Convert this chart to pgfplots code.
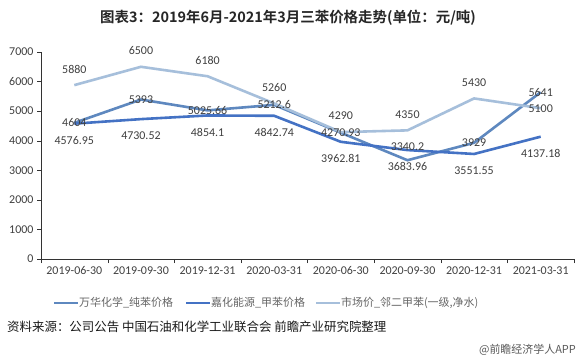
\documentclass[border=0pt]{standalone}
\usepackage{pgfplots}
\pgfplotsset{compat=1.18}
\usepackage{pgfplotstable}
\usepackage{fontspec}
\setmainfont{Carlito}
\newfontfamily\cjk{Noto Sans CJK SC}
\newfontfamily\cjkb{Noto Sans CJK SC Bold}
\definecolor{wanhua}{HTML}{5E88BF}
\definecolor{jiahua}{HTML}{4472C4}
\definecolor{market}{HTML}{A6BFDB}
\definecolor{txt}{HTML}{404040}
\pgfplotstableread{
x y dy
0.5 4604 0
1.5 5393 0
2.5 5025.66 0
3.5 5212.6 0
4.5 4270.93 0
5.5 3340.2 14
6.5 3929 0
7.5 5641 0
}\wanhuatab
\pgfplotstableread{
x y dy
0.5 4576.95 -17
1.5 4730.52 -17
2.5 4854.1 -17
3.5 4842.74 -17
4.5 3962.81 -17
5.5 3683.96 -16
6.5 3551.55 -17
7.5 4137.18 -17
}\jiahuatab
\pgfplotstableread{
x y dy
0.5 5880 16
1.5 6500 16
2.5 6180 16
3.5 5260 16
4.5 4290 16
5.5 4350 16
6.5 5430 16
7.5 5100 0
}\markettab
\begin{document}
\begin{tikzpicture}[x=1bp,y=1bp]
\fill[white] (0,0) rectangle (581,363);
\node[font=\cjkb\fontsize{14.5}{16}\selectfont, text=black!85] at (288,345) {图表3：2019年6月-2021年3月三苯价格走势(单位：元/吨)};
\begin{axis}[
  at={(41bp,104bp)}, anchor=south west,
  scale only axis, width=533bp, height=207bp,
  xmin=0, xmax=8, ymin=0, ymax=7000,
  axis x line*=bottom, axis y line*=left,
  axis line style={black!80, -},
  xtick={0.5,1.5,...,7.5},
  xticklabels={2019-06-30,2019-09-30,2019-12-31,2020-03-31,2020-06-30,2020-09-30,2020-12-31,2021-03-31},
  major x tick style={draw=none},
  minor xtick={0,1,...,8},
  minor x tick style={black!80},
  ytick={0,1000,...,7000},
  tick align=outside,
  major tick length=4bp, minor tick length=4bp,
  ytick style={black!80},
  ticklabel style={font=\fontsize{12}{14}\selectfont, text=txt},
  /pgf/number format/assume math mode=true,
  yticklabel style={/pgf/number format/1000 sep={}},
  scaled y ticks=false,
  clip=false,
  every axis plot/.append style={line width=2.6bp, mark=none},
  nodes near coords style={font=\fontsize{12}{14}\selectfont, text=txt, anchor=center, yshift=\dy bp},
  point meta=explicit symbolic,
  visualization depends on={\thisrow{dy}\as\dy},
]
\addplot[wanhua] table[x=x,y=y] {\wanhuatab};
\addplot[jiahua] table[x=x,y=y] {\jiahuatab};
\addplot[market] table[x=x,y=y] {\markettab};
\addplot[draw=none, nodes near coords] table[x=x,y=y,meta=y] {\wanhuatab};
\addplot[draw=none, nodes near coords] table[x=x,y=y,meta=y] {\jiahuatab};
\addplot[draw=none, nodes near coords] table[x=x,y=y,meta=y] {\markettab};
\end{axis}
% legend
\begin{scope}[font=\cjk\fontsize{11}{13}\selectfont]
\draw[wanhua, line width=2.6bp] (54,60) -- (78,60);
\node[anchor=west, text=black!60, inner sep=1bp] at (78,60) {万华化学\_纯苯价格};
\draw[jiahua, line width=2.6bp] (186,60) -- (210,60);
\node[anchor=west, text=black!60, inner sep=1bp] at (210,60) {嘉化能源\_甲苯价格};
\draw[market, line width=2.6bp] (316,60) -- (340,60);
\node[anchor=west, text=black!60, inner sep=1bp] at (340,60) {市场价\_邻二甲苯(一级,净水)};
\end{scope}
\node[anchor=west, font=\cjk\fontsize{12.5}{14}\selectfont, text=black!90, inner sep=0] at (7,36) {资料来源：公司公告 中国石油和化学工业联合会 前瞻产业研究院整理};
\node[anchor=east, font=\cjk\fontsize{11}{13}\selectfont, text=black!65, inner sep=0] at (576,13) {@前瞻经济学人APP};
\end{tikzpicture}
\end{document}
